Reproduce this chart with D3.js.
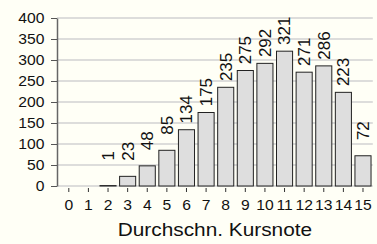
<!DOCTYPE html>
<html>
<head>
<meta charset="utf-8">
<script src="https://cdn.jsdelivr.net/npm/d3@7"></script>
<style>
html,body{margin:0;padding:0;background:#fffff6;}
svg{display:block;}
text{font-family:"Liberation Sans",Arial,Helvetica,sans-serif;fill:#111;}
</style>
</head>
<body>
<svg id="chart" width="377" height="244"></svg>
<script>
const categories = ["0","1","2","3","4","5","6","7","8","9","10","11","12","13","14","15"];
const counts = [0,0,1,23,48,85,134,175,235,275,292,321,271,286,223,72];
const yTicks = [0,50,100,150,200,250,300,350,400];
const xTitle = "Durchschn. Kursnote";

const SX = 1.12; // horizontal glyph stretch seen in the reference
const svg = d3.select("#chart");
const W = 377, H = 244;
svg.append("rect").attr("width",W).attr("height",H).attr("fill","#fffff6");

const x = d3.scaleBand().domain(categories).range([59, 372.8]).paddingInner(0.18).paddingOuter(0.09);
const y = d3.scaleLinear().domain([0,400]).range([186,18]);

// gridlines
svg.append("g").selectAll("line").data(yTicks).join("line")
  .attr("x1",57).attr("x2",372.8)
  .attr("y1",d=>y(d)).attr("y2",d=>y(d))
  .attr("stroke","#d2d2d2").attr("stroke-width",1.3);

// bars
const data = categories.map((c,i)=>({c, v:counts[i]}));
svg.append("g").selectAll("rect").data(data.filter(d=>d.v>0)).join("rect")
  .attr("x",d=>x(d.c)).attr("width",x.bandwidth())
  .attr("y",d=>y(d.v)).attr("height",d=>y(0)-y(d.v))
  .attr("fill","#dedede").attr("stroke","#222").attr("stroke-width",1);

// bar labels
svg.append("g").selectAll("text").data(data.filter(d=>d.v>0)).join("text")
  .attr("transform",d=>`translate(${x(d.c)+x.bandwidth()/2},${y(d.v)-34.5}) rotate(-90) scale(1.04,1)`)
  .attr("text-anchor","end").attr("dy","0.36em")
  .attr("font-size","16.3px")
  .text(d=>d.v);

// y axis
const yAxis = svg.append("g").attr("transform","translate(57,0)")
  .call(d3.axisLeft(y).tickValues(yTicks).tickSize(6).tickSizeOuter(0).tickFormat(""));
yAxis.select(".domain").attr("stroke","#666").attr("stroke-width",1.5);
yAxis.selectAll(".tick line").attr("stroke","#555").attr("stroke-width",1);
svg.append("g").selectAll("text").data(yTicks).join("text")
  .attr("transform",d=>`translate(44.5,${y(d)}) scale(${SX},1)`)
  .attr("text-anchor","end").attr("dy","0.36em").attr("font-size","14px")
  .text(d=>d);

// x axis
const xAxis = svg.append("g").attr("transform","translate(0,188)")
  .call(d3.axisBottom(x).tickSize(4).tickSizeOuter(0).tickFormat(""));
xAxis.select(".domain").remove();
xAxis.selectAll(".tick line").attr("stroke","#333").attr("stroke-width",1);
svg.append("g").selectAll("text").data(categories).join("text")
  .attr("transform",d=>`translate(${x(d)+x.bandwidth()/2},209.5) scale(${SX},1)`)
  .attr("text-anchor","middle").attr("font-size","14px")
  .text(d=>d);

// x title
svg.append("text").attr("transform",`translate(${(59+372.8)/2 - 1},235.6) scale(${SX},1)`)
  .attr("text-anchor","middle").attr("font-size","18.6px").text(xTitle);
</script>
</body>
</html>
